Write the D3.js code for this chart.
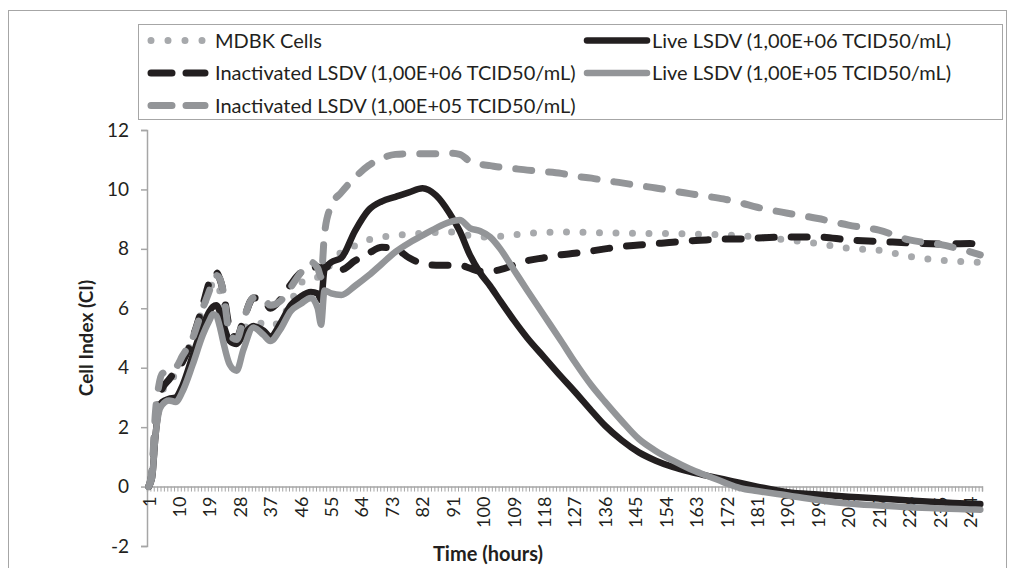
<!DOCTYPE html>
<html>
<head>
<meta charset="utf-8">
<script src="https://cdn.jsdelivr.net/npm/d3@7"></script>
<style>
  body { margin: 0; background: #fff; }
  svg { display: block; font-family: Lato, "Open Sans", sans-serif; }
</style>
</head>
<body>
<div id="container"></div>
<script>
const hours = [1,2,3,4,5,7,9,11,14,17,19,20,21,22,23,25,27,29,32,35,37,40,43,46,49,51,52,53,55,58,62,66,70,74,78,82,86,90,93,96,99,102,105,109,113,118,123,127,132,136,141,146,151,156,161,166,171,176,181,190,199,208,217,226,235,244,247];

const mdbk = [0,0.4,1.9,2.8,3.2,3.5,3.8,4.2,5.0,6.0,6.6,6.85,6.9,6.6,6.1,5.2,5.0,5.3,5.5,5.5,5.4,5.6,6.2,6.85,7.0,7.05,7.1,7.25,7.5,7.9,8.1,8.3,8.4,8.45,8.5,8.52,8.55,8.57,8.5,8.45,8.4,8.4,8.42,8.47,8.52,8.55,8.57,8.57,8.55,8.54,8.53,8.52,8.52,8.52,8.5,8.49,8.47,8.44,8.4,8.3,8.18,8.02,7.95,7.75,7.62,7.56,7.55];

const live06 = [0,0.3,1.7,2.6,2.85,2.95,3.0,3.4,4.4,5.4,5.9,6.05,6.1,5.9,5.5,4.9,4.8,5.1,5.4,5.25,5.05,5.5,6.1,6.4,6.55,6.5,6.27,7.3,7.55,7.7,8.6,9.3,9.6,9.75,9.9,10.04,9.8,9.2,8.6,7.8,7.2,6.75,6.25,5.6,5.0,4.35,3.7,3.2,2.55,2.05,1.55,1.15,0.87,0.66,0.5,0.37,0.25,0.12,0.0,-0.19,-0.27,-0.34,-0.4,-0.47,-0.53,-0.58,-0.59];

const inact06 = [0,0.5,2.2,3.0,3.3,3.6,3.9,4.2,5.0,6.1,6.9,7.15,7.2,7.0,6.6,5.3,5.0,5.6,6.35,6.3,6.0,6.3,6.8,7.2,7.35,7.4,7.3,7.45,7.3,7.3,7.6,7.85,8.05,8.0,7.7,7.5,7.45,7.45,7.45,7.35,7.25,7.25,7.3,7.45,7.6,7.7,7.8,7.85,7.93,8.0,8.08,8.13,8.18,8.22,8.27,8.3,8.33,8.33,8.36,8.4,8.4,8.3,8.25,8.2,8.16,8.18,8.1];

const live05 = [0,0.3,1.7,2.5,2.75,2.9,2.85,3.2,4.1,5.1,5.6,5.8,5.75,5.4,4.9,4.1,3.9,4.6,5.35,5.1,4.9,5.3,5.9,6.15,6.35,6.0,5.45,6.6,6.5,6.45,6.75,7.1,7.5,7.9,8.2,8.45,8.7,8.9,8.97,8.7,8.6,8.4,8.0,7.3,6.6,5.75,4.9,4.2,3.4,2.85,2.2,1.6,1.2,0.88,0.6,0.37,0.15,-0.05,-0.15,-0.3,-0.45,-0.57,-0.64,-0.7,-0.74,-0.77,-0.78];

const inact05 = [0,0.6,2.5,3.4,3.8,3.9,4.0,4.4,5.0,6.0,6.6,6.95,7.1,7.0,6.6,5.1,4.95,5.6,6.35,6.3,6.1,6.25,6.7,7.2,7.55,7.35,7.05,8.5,9.45,9.9,10.4,10.8,11.05,11.18,11.2,11.2,11.2,11.22,11.18,10.95,10.85,10.8,10.75,10.7,10.65,10.6,10.54,10.45,10.38,10.3,10.22,10.13,10.05,9.95,9.86,9.77,9.68,9.55,9.4,9.2,9.02,8.8,8.63,8.3,8.15,7.9,7.8];

const xLabels = d3.range(1, 245, 9);   // 1, 10, 19 ... 244
const yTicks = [-2, 0, 2, 4, 6, 8, 10, 12];
const nCategories = 247;

const seriesNames = [
  'MDBK Cells',
  'Live LSDV (1,00E+06 TCID50/mL)',
  'Inactivated LSDV (1,00E+06 TCID50/mL)',
  'Live LSDV (1,00E+05 TCID50/mL)',
  'Inactivated LSDV (1,00E+05 TCID50/mL)'
];
const seriesValues = [mdbk, live06, inact06, live05, inact05];

const black = '#231f20', grey = '#939598', lightGrey = '#a7a9ac';
const styles = [
  { color: lightGrey, width: 7, dash: '0,16.5', legendDash: '0,17' },
  { color: black, width: 6.5, dash: null, legendDash: null },
  { color: black, width: 7, dash: '16,17', legendDash: '21,14' },
  { color: grey, width: 6.5, dash: null, legendDash: null },
  { color: grey, width: 7, dash: '16,17', legendDash: '21,14' }
];

const w = 1015, h = 568;
const svg = d3.select('#container').append('svg')
  .attr('width', w).attr('height', h);

// outer frame
svg.append('rect')
  .attr('x', 8.5).attr('y', 10.5).attr('width', 998).attr('height', 600)
  .attr('fill', 'none').attr('stroke', '#a6a6a6').attr('stroke-width', 1);

const xScale = d3.scaleLinear().domain([0.5, nCategories + 0.5]).range([147, 982]);
const yScale = d3.scaleLinear().domain([-2, 12]).range([546, 130]);

// y axis
const yAxis = d3.axisLeft(yScale).tickValues(yTicks).tickSize(6).tickPadding(12)
  .tickFormat(d => String(d));
const gy = svg.append('g').attr('transform', 'translate(147,0)').call(yAxis);
gy.select('.domain').attr('stroke', '#a6a6a6').attr('stroke-width', 1.5);
gy.selectAll('.tick line').attr('stroke', '#a6a6a6').attr('stroke-width', 1.5);
gy.selectAll('.tick text').attr('font-size', 19).attr('fill', '#231f20')
  .attr('font-family', 'Lato, "Open Sans", sans-serif');

// x axis: minor ticks at every category boundary
const xMinor = d3.axisBottom(xScale)
  .tickValues(d3.range(0.5, nCategories + 1, 1)).tickSize(5).tickFormat('');
const gxm = svg.append('g').attr('transform', 'translate(0,' + yScale(0) + ')').call(xMinor);
gxm.select('.domain').attr('stroke', '#a6a6a6').attr('stroke-width', 1.5);
gxm.selectAll('.tick line').attr('stroke', '#a6a6a6').attr('stroke-width', 1);

// x labels, rotated
const xAxis = d3.axisBottom(xScale).tickValues(xLabels).tickSize(0).tickFormat(d => String(d));
const gx = svg.append('g').attr('transform', 'translate(0,' + yScale(0) + ')').call(xAxis);
gx.select('.domain').remove();
gx.selectAll('.tick text')
  .attr('font-size', 18).attr('fill', '#231f20')
  .attr('font-family', 'Lato, "Open Sans", sans-serif')
  .attr('text-anchor', 'end')
  .attr('transform', 'rotate(-90)')
  .attr('x', -10).attr('y', 0).attr('dy', '0.35em');

// axis titles
svg.append('text')
  .attr('transform', 'translate(93,338) rotate(-90)')
  .attr('text-anchor', 'middle')
  .attr('font-size', 19).attr('font-weight', 'bold').attr('fill', '#231f20')
  .text('Cell Index (CI)');
svg.append('text')
  .attr('x', 488).attr('y', 561)
  .attr('text-anchor', 'middle')
  .attr('font-size', 20).attr('font-weight', 'bold').attr('fill', '#231f20')
  .text('Time (hours)');

// series
const line = d3.line()
  .x(d => xScale(d[0]))
  .y(d => yScale(d[1]))
  .curve(d3.curveMonotoneX);

seriesValues.forEach(function(vals, i){
  const pts = hours.map((t, j) => [t, vals[j]]);
  svg.append('path')
    .datum(pts)
    .attr('fill', 'none')
    .attr('stroke', styles[i].color)
    .attr('stroke-width', styles[i].width)
    .attr('stroke-linecap', 'round')
    .attr('stroke-linejoin', 'round')
    .attr('stroke-dasharray', styles[i].dash)
    .attr('d', line);
});

// legend
svg.append('rect')
  .attr('x', 138.5).attr('y', 24.5).attr('width', 864).attr('height', 95)
  .attr('fill', '#fff').attr('stroke', '#a6a6a6').attr('stroke-width', 1);

const legendPos = [
  { x: 148, y: 40.5 }, { x: 587, y: 40.5 },
  { x: 148, y: 73 }, { x: 587, y: 73 },
  { x: 148, y: 105.5 }
];
seriesNames.forEach(function(name, i){
  const p = legendPos[i];
  const solid = styles[i].dash === null;
  const x1 = solid ? p.x : p.x + 3;
  const x2 = solid ? p.x + 60 : p.x + 57;
  svg.append('line')
    .attr('x1', x1).attr('x2', x2).attr('y1', p.y).attr('y2', p.y)
    .attr('stroke', styles[i].color)
    .attr('stroke-width', styles[i].width)
    .attr('stroke-linecap', 'round')
    .attr('stroke-dasharray', styles[i].legendDash);
  svg.append('text')
    .attr('x', solid ? p.x + 65 : 215).attr('y', p.y).attr('dy', '0.35em')
    .attr('font-size', 20).attr('fill', '#231f20')
    .text(name);
});
</script>
</body>
</html>
